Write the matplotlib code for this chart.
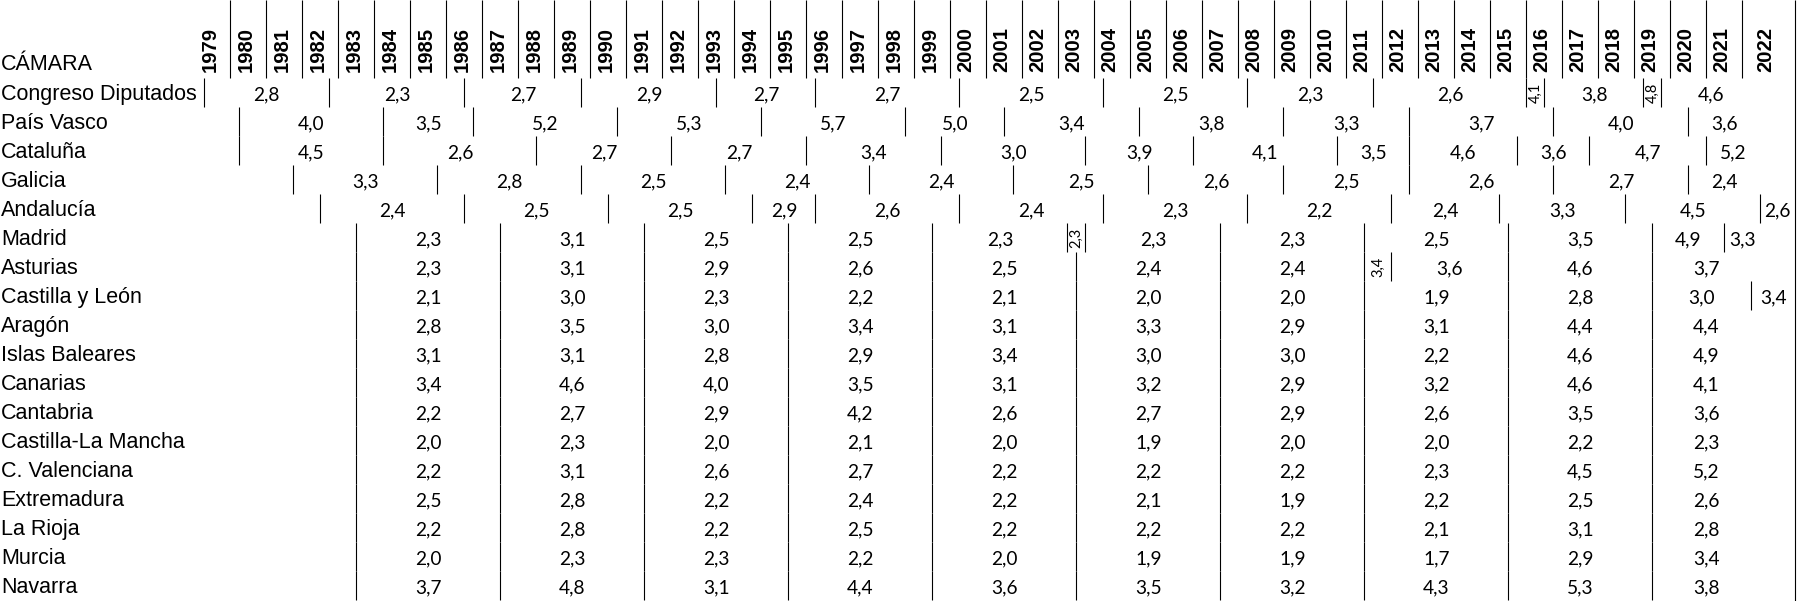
import matplotlib
matplotlib.use("Agg")
import matplotlib.pyplot as plt

# ---------------- data ----------------
years = list(range(1979, 2023))
header_label = "CÁMARA"

chambers = ["Congreso Diputados", "País Vasco", "Cataluña", "Galicia", "Andalucía",
            "Madrid", "Asturias", "Castilla y León", "Aragón", "Islas Baleares",
            "Canarias", "Cantabria", "Castilla-La Mancha", "C. Valenciana",
            "Extremadura", "La Rioja", "Murcia", "Navarra"]

# election dates (fractional years, as placed on the timeline)
congreso_dates = [1979.25, 1982.75, 1986.5, 1989.75, 1993.5, 1996.25, 2000.25, 2004.25,
                  2008.25, 2011.75, 2016.0, 2016.5, 2019.25, 2019.75]
congreso_vals = [2.8, 2.3, 2.7, 2.9, 2.7, 2.7, 2.5, 2.5, 2.3, 2.6, 4.1, 3.8, 4.8, 4.6]

pvasco_dates = [1980.25, 1984.25, 1986.75, 1990.75, 1994.75, 1998.75, 2001.5, 2005.25,
                2009.25, 2012.75, 2016.75, 2020.5]
pvasco_vals = [4.0, 3.5, 5.2, 5.3, 5.7, 5.0, 3.4, 3.8, 3.3, 3.7, 4.0, 3.6]

cataluna_dates = [1980.25, 1984.25, 1988.5, 1992.25, 1996.0, 1999.75, 2003.75, 2006.75,
                  2010.75, 2012.75, 2015.75, 2017.75, 2021.0]
cataluna_vals = [4.5, 2.6, 2.7, 2.7, 3.4, 3.0, 3.9, 4.1, 3.5, 4.6, 3.6, 4.7, 5.2]

galicia_dates = [1981.75, 1985.75, 1989.75, 1993.75, 1997.75, 2001.75, 2005.5, 2009.25,
                 2012.75, 2016.75, 2020.5]
galicia_vals = [3.3, 2.8, 2.5, 2.4, 2.4, 2.5, 2.6, 2.5, 2.6, 2.7, 2.4]

andalucia_dates = [1982.5, 1986.5, 1990.5, 1994.5, 1996.25, 2000.25, 2004.25, 2008.25,
                   2012.25, 2015.25, 2018.75, 2022.5]
andalucia_vals = [2.4, 2.5, 2.5, 2.9, 2.6, 2.4, 2.3, 2.2, 2.4, 3.3, 4.5, 2.6]

regional_dates = [1983.5, 1987.5, 1991.5, 1995.5, 1999.5, 2003.5, 2007.5, 2011.5,
                  2015.5, 2019.5]

madrid_dates = [1983.5, 1987.5, 1991.5, 1995.5, 1999.5, 2003.25, 2003.75, 2007.5,
                2011.5, 2015.5, 2019.5, 2021.5]
madrid_vals = [2.3, 3.1, 2.5, 2.5, 2.3, 2.3, 2.3, 2.3, 2.5, 3.5, 4.9, 3.3]

asturias_dates = [1983.5, 1987.5, 1991.5, 1995.5, 1999.5, 2003.5, 2007.5, 2011.5,
                  2012.25, 2015.5, 2019.5]
asturias_vals = [2.3, 3.1, 2.9, 2.6, 2.5, 2.4, 2.4, 3.4, 3.6, 4.6, 3.7]

cyl_dates = regional_dates + [2022.25]
cyl_vals = [2.1, 3.0, 2.3, 2.2, 2.1, 2.0, 2.0, 1.9, 2.8, 3.0, 3.4]

aragon_vals = [2.8, 3.5, 3.0, 3.4, 3.1, 3.3, 2.9, 3.1, 4.4, 4.4]
baleares_vals = [3.1, 3.1, 2.8, 2.9, 3.4, 3.0, 3.0, 2.2, 4.6, 4.9]
canarias_vals = [3.4, 4.6, 4.0, 3.5, 3.1, 3.2, 2.9, 3.2, 4.6, 4.1]
cantabria_vals = [2.2, 2.7, 2.9, 4.2, 2.6, 2.7, 2.9, 2.6, 3.5, 3.6]
clm_vals = [2.0, 2.3, 2.0, 2.1, 2.0, 1.9, 2.0, 2.0, 2.2, 2.3]
valenciana_vals = [2.2, 3.1, 2.6, 2.7, 2.2, 2.2, 2.2, 2.3, 4.5, 5.2]
extremadura_vals = [2.5, 2.8, 2.2, 2.4, 2.2, 2.1, 1.9, 2.2, 2.5, 2.6]
rioja_vals = [2.2, 2.8, 2.2, 2.5, 2.2, 2.2, 2.2, 2.1, 3.1, 2.8]
murcia_vals = [2.0, 2.3, 2.3, 2.2, 2.0, 1.9, 1.9, 1.7, 2.9, 3.4]
navarra_vals = [3.7, 4.8, 3.1, 4.4, 3.6, 3.5, 3.2, 4.3, 5.3, 3.8]

timeline_end = 2022.5      # end of the open last term
border_year = 2023.45      # right border of the table

row_dates = [congreso_dates, pvasco_dates, cataluna_dates, galicia_dates, andalucia_dates,
             madrid_dates, asturias_dates, cyl_dates] + [regional_dates] * 10
row_vals = [congreso_vals, pvasco_vals, cataluna_vals, galicia_vals, andalucia_vals,
            madrid_vals, asturias_vals, cyl_vals, aragon_vals, baleares_vals,
            canarias_vals, cantabria_vals, clm_vals, valenciana_vals, extremadura_vals,
            rioja_vals, murcia_vals, navarra_vals]
row_ends = [timeline_end] * 4 + [border_year] + [timeline_end] * 2 + [border_year] + [timeline_end] * 10

# ---------------- layout ----------------
W, H = 1803, 601
px0, colw = 194.5, 36.0
header_h, row_h = 78, 29
lw = 0.8
label_font = "Liberation Sans"
value_font = "Lato"
year_shift = -2.5 / colw

fig = plt.figure(figsize=(W / 100, H / 100), dpi=100)
ax = fig.add_axes([0, 0, 1, 1])
ax.axis("off")
x_left = years[0] - px0 / colw
x_right = years[0] + (W - px0) / colw
ax.set_xlim(x_left, x_right)
ax.set_ylim(H, 0)

# header
ax.vlines(years[1:], 0, header_h, colors="black", linewidth=lw)
ax.vlines([border_year], 0, H, colors="black", linewidth=lw)
for y in years:
    cx = y + 0.5 if y < years[-1] else (y + border_year) / 2
    ax.text(cx + year_shift, 72.5, str(y), rotation=90, ha="center", va="bottom",
            fontsize=14.6, fontweight="bold", family=label_font, color="black")
ax.text(x_left + 1 / colw, 65, header_label, ha="left", va="center",
        fontsize=15.5, family=label_font, color="black")


def fmt(v):
    return f"{v:.1f}".replace(".", ",")


for i, name in enumerate(chambers):
    top = header_h + i * row_h
    bot = top + row_h
    cy = top + row_h / 2
    ax.text(x_left + 1 / colw, cy + 2, name, ha="left", va="center",
            fontsize=15.5, family=label_font, color="black")
    dates = row_dates[i]
    ax.vlines(dates, top, bot, colors="black", linewidth=lw)
    edges = list(dates) + [row_ends[i]]
    for j, v in enumerate(row_vals[i]):
        a, b = edges[j], edges[j + 1]
        small = (b - a) < 0.9
        ax.text((a + b) / 2, cy + (0 if small else 2.5), fmt(v), ha="center", va="center",
                rotation=90 if small else 0, fontsize=10.5 if small else 13.8,
                family=value_font, color="black")

fig.savefig("out.png", dpi=100, facecolor="white")
